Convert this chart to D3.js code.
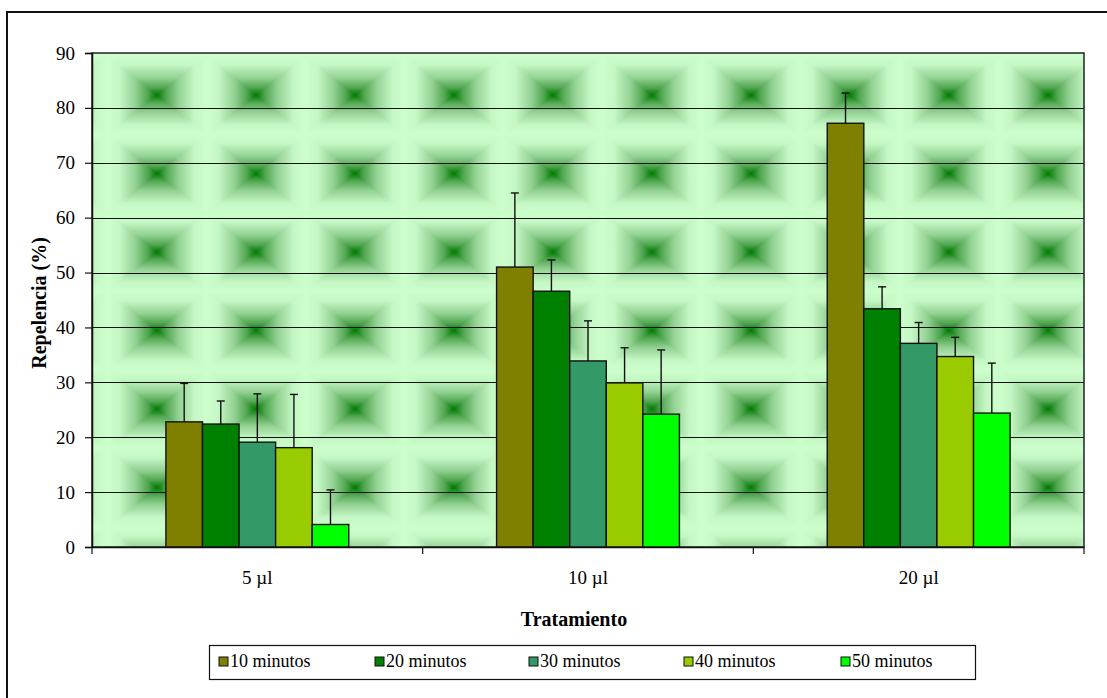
<!DOCTYPE html>
<html>
<head>
<meta charset="utf-8">
<script src="https://cdn.jsdelivr.net/npm/d3@7"></script>
<style>
  body { margin: 0; background: #fff; }
  svg text { font-family: "Liberation Serif", "Times New Roman", serif; fill: #000; }
</style>
</head>
<body>
<div id="chart"></div>
<script>
// data
var categories = ["5 µl", "10 µl", "20 µl"];
var series = ["10 minutos", "20 minutos", "30 minutos", "40 minutos", "50 minutos"];
var colors = ["#808000", "#008000", "#339966", "#99cc00", "#00ff00"];
var m10 = [22.8, 51.0, 77.2];
var m20 = [22.4, 46.6, 43.4];
var m30 = [19.1, 33.9, 37.1];
var m40 = [18.1, 29.9, 34.7];
var m50 = [4.1, 24.2, 24.4];
var e10 = [7.0, 13.5, 5.5];
var e20 = [4.2, 5.7, 4.0];
var e30 = [8.8, 7.3, 3.8];
var e40 = [9.7, 6.4, 3.5];
var e50 = [6.3, 11.7, 9.1];
var yTicks = [0, 10, 20, 30, 40, 50, 60, 70, 80, 90];

var means = [m10, m20, m30, m40, m50];
var errs = [e10, e20, e30, e40, e50];

var W = 1107, H = 698;
var plot = { left: 92, top: 53, right: 1084, bottom: 547 };
var serif = "'Liberation Serif', 'Times New Roman', serif";

var svg = d3.select("#chart").append("svg")
    .attr("width", W)
    .attr("height", H);

// background tile: box gradient, dark at the centre
var defs = svg.append("defs");
var tw = 99, th = 78.5;
var stops = [[0, "#ccffcc"], [0.12, "#c4f7c4"], [0.28, "#94d294"], [0.41, "#4fa54f"], [0.5, "#007a00"]];
function mirror(s) {
  return s.concat(s.slice(0, -1).reverse().map(function(d) { return [1 - d[0], d[1]]; }));
}
function grad(id, x1, y1, x2, y2) {
  var g = defs.append("linearGradient").attr("id", id)
      .attr("x1", x1).attr("y1", y1).attr("x2", x2).attr("y2", y2);
  g.selectAll("stop").data(mirror(stops)).enter().append("stop")
      .attr("offset", function(d) { return d[0]; })
      .attr("stop-color", function(d) { return d[1]; });
}
grad("gv", 0, 0, 0, 1);
grad("gh", 0, 0, 1, 0);

var pat = defs.append("pattern").attr("id", "bgtile")
    .attr("patternUnits", "userSpaceOnUse")
    .attr("x", 157 - tw / 2).attr("y", 95 - th / 2)
    .attr("width", tw).attr("height", th);
pat.append("rect").attr("width", tw).attr("height", th).attr("fill", "url(#gv)");
// left and right wedges use the horizontal gradient
defs.append("clipPath").attr("id", "wedges")
  .append("path")
    .attr("d", "M0,0L" + tw / 2 + "," + th / 2 + "L0," + th + "Z" +
               "M" + tw + ",0L" + tw / 2 + "," + th / 2 + "L" + tw + "," + th + "Z");
pat.append("rect").attr("width", tw).attr("height", th)
    .attr("fill", "url(#gh)").attr("clip-path", "url(#wedges)");

// outer chart border (right and bottom fall outside the window)
svg.append("rect")
    .attr("x", 7).attr("y", 12)
    .attr("width", 1110).attr("height", 700)
    .attr("fill", "none").attr("stroke", "#111").attr("stroke-width", 2);

var y = d3.scaleLinear().domain([0, 90]).range([plot.bottom, plot.top]);
var x0 = d3.scaleBand().domain(categories).range([plot.left, plot.right]);
var groupW = x0.bandwidth() * 0.553;
var x1 = d3.scaleBand().domain(series).range([0, groupW]);

svg.append("rect")
    .attr("x", plot.left).attr("y", plot.top)
    .attr("width", plot.right - plot.left).attr("height", plot.bottom - plot.top)
    .attr("fill", "url(#bgtile)");

// gridlines
svg.append("g").selectAll("line")
  .data(yTicks.filter(function(d) { return d > 0 && d < 90; }))
  .enter().append("line")
    .attr("x1", plot.left).attr("x2", plot.right)
    .attr("y1", function(d) { return Math.round(y(d)) + 0.5; })
    .attr("y2", function(d) { return Math.round(y(d)) + 0.5; })
    .attr("stroke", "#111").attr("stroke-width", 1.2);

// plot area border
svg.append("rect")
    .attr("x", plot.left).attr("y", plot.top)
    .attr("width", plot.right - plot.left).attr("height", plot.bottom - plot.top)
    .attr("fill", "none").attr("stroke", "#222").attr("stroke-width", 1.5);

// bars
var rows = [];
categories.forEach(function(c, i) {
  series.forEach(function(s, j) {
    rows.push({ cat: c, s: s, j: j, v: means[j][i], e: errs[j][i] });
  });
});
function bx(d) { return x0(d.cat) + (x0.bandwidth() - groupW) / 2 + x1(d.s); }

svg.append("g").selectAll("rect")
  .data(rows).enter().append("rect")
    .attr("x", bx)
    .attr("y", function(d) { return y(d.v); })
    .attr("width", x1.bandwidth())
    .attr("height", function(d) { return y(0) - y(d.v); })
    .attr("fill", function(d) { return colors[d.j]; })
    .attr("stroke", "#111").attr("stroke-width", 1.4);

// error bars, upper side only
var eb = svg.append("g").attr("stroke", "#111").attr("stroke-width", 1.4);
eb.selectAll("line.v").data(rows).enter().append("line")
    .attr("class", "v")
    .attr("x1", function(d) { return bx(d) + x1.bandwidth() / 2; })
    .attr("x2", function(d) { return bx(d) + x1.bandwidth() / 2; })
    .attr("y1", function(d) { return y(d.v); })
    .attr("y2", function(d) { return y(d.v + d.e); });
eb.selectAll("line.c").data(rows).enter().append("line")
    .attr("class", "c")
    .attr("x1", function(d) { return bx(d) + x1.bandwidth() / 2 - 4; })
    .attr("x2", function(d) { return bx(d) + x1.bandwidth() / 2 + 4; })
    .attr("y1", function(d) { return y(d.v + d.e); })
    .attr("y2", function(d) { return y(d.v + d.e); });

// y axis
var yAxis = svg.append("g")
    .attr("transform", "translate(" + plot.left + ",0)")
    .call(d3.axisLeft(y).tickValues(yTicks).tickSize(7).tickPadding(10));
yAxis.select(".domain").attr("stroke", "#111").attr("stroke-width", 1.5);
yAxis.selectAll(".tick line").attr("stroke", "#111").attr("stroke-width", 1.2);
yAxis.selectAll("text").style("font-size", "19px").style("font-family", serif);

// x axis: labels at centres, ticks at category boundaries
var xAxis = svg.append("g")
    .attr("transform", "translate(0," + plot.bottom + ")")
    .call(d3.axisBottom(x0).tickSize(0).tickPadding(24));
xAxis.select(".domain").attr("stroke", "#111").attr("stroke-width", 1.5);
xAxis.selectAll("text").style("font-size", "19px").style("font-family", serif);
var bounds = categories.map(function(c) { return x0(c); }).concat([plot.right]);
xAxis.selectAll("line.bnd").data(bounds).enter().append("line")
    .attr("class", "bnd")
    .attr("x1", function(d) { return d; }).attr("x2", function(d) { return d; })
    .attr("y1", 0).attr("y2", 7)
    .attr("stroke", "#111").attr("stroke-width", 1.2);

// axis titles
svg.append("text")
    .attr("x", 574).attr("y", 626)
    .attr("text-anchor", "middle")
    .style("font-size", "20px").style("font-weight", "bold")
    .text("Tratamiento");
svg.append("text")
    .attr("transform", "translate(46,303) rotate(-90)")
    .attr("text-anchor", "middle")
    .style("font-size", "20px").style("font-weight", "bold")
    .text("Repelencia (%)");

// legend
var lg = svg.append("g");
lg.append("rect")
    .attr("x", 209.5).attr("y", 645.5).attr("width", 766).attr("height", 34)
    .attr("fill", "#fff").attr("stroke", "#111").attr("stroke-width", 1.2);
var legX = [219, 375, 529, 684, 841];
var items = lg.selectAll("g.item").data(series).enter().append("g")
    .attr("class", "item")
    .attr("transform", function(d, i) { return "translate(" + legX[i] + ",657)"; });
items.append("rect")
    .attr("width", 9).attr("height", 9)
    .attr("fill", function(d, i) { return colors[i]; })
    .attr("stroke", "#111").attr("stroke-width", 1);
items.append("text")
    .attr("x", 11).attr("y", 10)
    .style("font-size", "18px")
    .text(function(d) { return d; });
</script>
</body>
</html>
